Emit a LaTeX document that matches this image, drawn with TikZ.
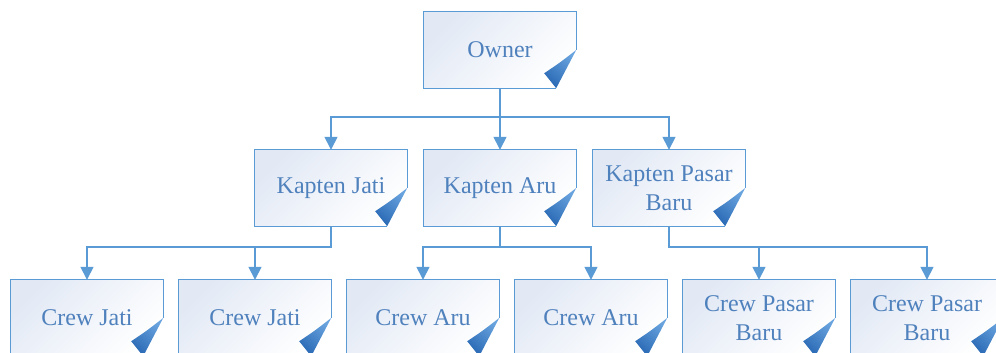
\documentclass[tikz,border=0pt]{standalone}
\usepackage{fontspec}
\setmainfont{Liberation Serif}
\usetikzlibrary{arrows.meta,calc}
\pgfdeclarelayer{background}
\pgfsetlayers{background,main}
\definecolor{edgeblue}{HTML}{5B9BD5}
\definecolor{txtblue}{HTML}{4F81BD}
\definecolor{fillA}{HTML}{E2E9F5}
\definecolor{flapA}{HTML}{2A6AB5}
\definecolor{flapB}{HTML}{6AA4DF}
\tikzset{
  orgbox/.style={minimum width=152pt,minimum height=76pt,inner sep=0pt,
    text=txtblue,align=center,font=\fontsize{24}{29}\selectfont},
  boxline/.style={draw=edgeblue,line width=1.3pt},
  conn/.style={draw=edgeblue,line width=1.5pt,-{Triangle[width=13pt,length=13pt]}}
}
\newcommand\drawfold[1]{%
  \shade[top color=fillA,bottom color=white,shading angle=45]
    (#1.north west) -- (#1.north east) -- (#1.east) -- ($(#1.south east)+(-20,0)$) -- (#1.south west) -- cycle;
  \draw[boxline] (#1.east) -- (#1.north east) -- (#1.north west) -- (#1.south west) -- ($(#1.south east)+(-20,0)$);
  \shade[top color=flapB,bottom color=flapA,shading angle=-40]
    (#1.east) .. controls ($(#1.south east)+(-17,-25)$) .. ($(#1.south east)+(-32,-15)$)
    -- ($(#1.south east)+(-20,0)$) -- cycle;
}
\begin{document}
\begin{tikzpicture}[x=1pt,y=-1pt]
\useasboundingbox (0,0) rectangle (996,353);
\clip (0,0) rectangle (996,353);
\node[orgbox] (owner) at (500,50) {Owner};
\node[orgbox] (kj) at (331,188) {Kapten Jati};
\node[orgbox] (ka) at (500,188) {Kapten Aru};
\node[orgbox] (kp) at (669,188) {Kapten Pasar\\Baru};
\node[orgbox] (c1) at (87,318) {Crew Jati};
\node[orgbox] (c2) at (255,318) {Crew Jati};
\node[orgbox] (c3) at (423,318) {Crew Aru};
\node[orgbox] (c4) at (591,318) {Crew Aru};
\node[orgbox] (c5) at (759,318) {Crew Pasar\\Baru};
\node[orgbox] (c6) at (927,318) {Crew Pasar\\Baru};
\begin{pgfonlayer}{background}
\foreach \n in {owner,kj,ka,kp,c1,c2,c3,c4,c5,c6}{\drawfold{\n}}
\end{pgfonlayer}
\foreach \k in {kj,ka,kp}{\draw[conn] (owner.south) -- ++(0,29) -| (\k.north);}
\foreach \c in {c1,c2}{\draw[conn] (kj.south) -- ++(0,21) -| (\c.north);}
\foreach \c in {c3,c4}{\draw[conn] (ka.south) -- ++(0,21) -| (\c.north);}
\foreach \c in {c5,c6}{\draw[conn] (kp.south) -- ++(0,21) -| (\c.north);}
\end{tikzpicture}
\end{document}
